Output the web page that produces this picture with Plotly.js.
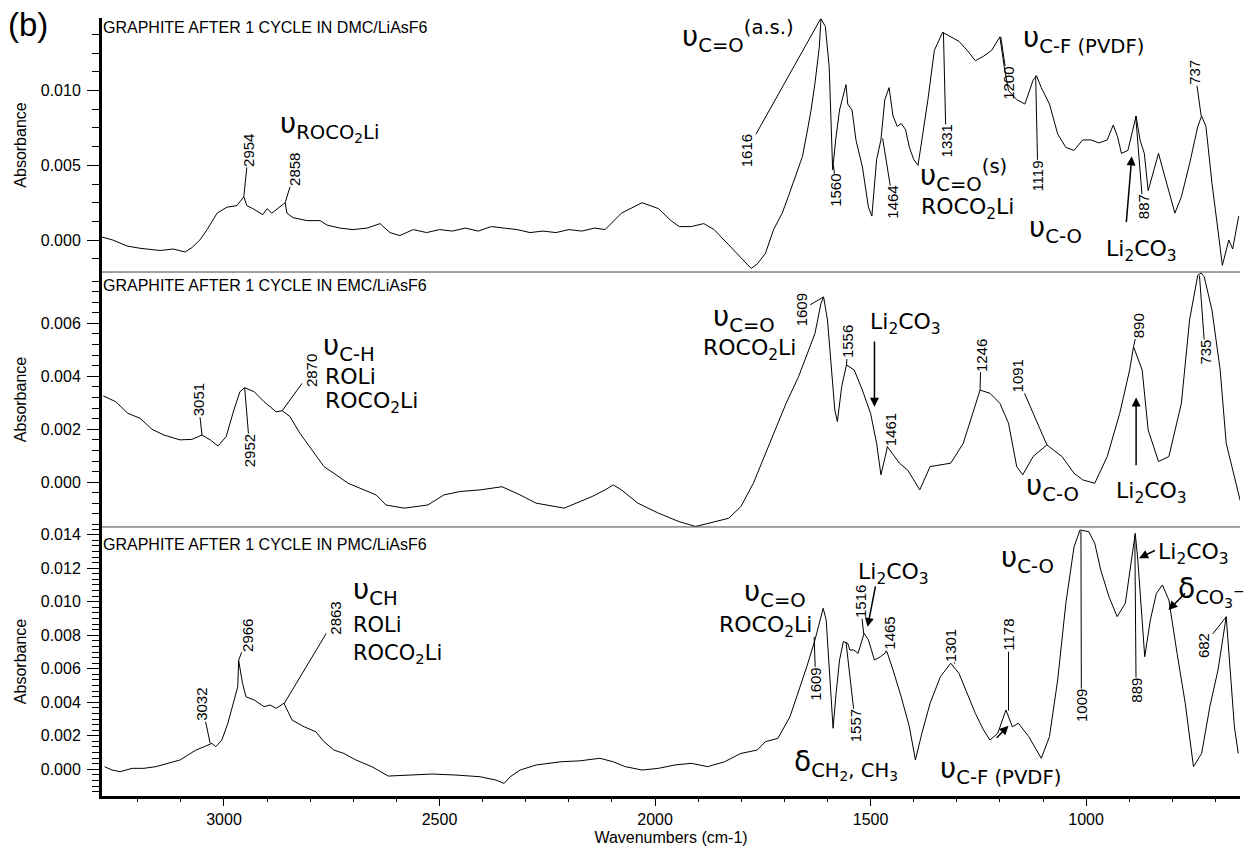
<!DOCTYPE html>
<html><head><meta charset="utf-8">
<script src="https://cdn.plot.ly/plotly-3.0.1.min.js"></script>
<style>body{margin:0;background:#fff}</style>
</head><body>
<div id="chart" style="width:1245px;height:852px"></div>
<script>
// ---------- DATA ----------
const dmcWavenumber = [3283,3258,3225,3195,3148,3118,3090,3074,3056,3039,3016,2993,2970,2954,2947,2933,2910,2900,2889,2875,2858,2854,2840,2807,2777,2761,2731,2701,2668,2638,2615,2592,2561,2530,2500,2470,2440,2410,2380,2350,2320,2290,2260,2230,2200,2170,2140,2116,2078,2030,1992,1963,1944,1916,1887,1863,1839,1810,1787,1777,1763,1744,1725,1705,1691,1677,1658,1648,1638,1629,1619,1615,1605,1596,1591,1588,1581,1572,1557,1553,1543,1534,1519,1505,1497,1486,1476,1467,1457,1448,1438,1429,1419,1410,1400,1390,1381,1367,1352,1333,1314,1295,1276,1257,1238,1219,1200,1190,1180,1161,1142,1123,1115,1104,1085,1066,1047,1028,1008,989,970,951,937,927,918,903,894,884,875,865,856,841,832,817,794,779,760,741,732,722,708,693,684,669,660,646];
const dmcAbsorbance = [0.0002,0.0,-0.0004,-0.00055,-0.0007,-0.0006,-0.0008,-0.0005,0.0,0.0007,0.0018,0.0022,0.0023,0.0029,0.0023,0.0021,0.0017,0.0021,0.0018,0.0021,0.0025,0.0018,0.0015,0.0013,0.0013,0.001,0.0008,0.0007,0.0008,0.0011,0.0005,0.0003,0.0007,0.0005,0.0007,0.0006,0.0008,0.0006,0.0009,0.0008,0.0007,0.0005,0.0006,0.0005,0.0007,0.0006,0.0008,0.0007,0.0018,0.0025,0.0021,0.0013,0.0009,0.0009,0.0011,0.0007,0.0,-0.0009,-0.0016,-0.0019,-0.0016,-0.0009,0.0007,0.0018,0.0029,0.0040,0.0056,0.0071,0.0087,0.0105,0.0129,0.0148,0.0143,0.0116,0.0067,0.0047,0.0067,0.0087,0.0104,0.0091,0.0087,0.0067,0.0049,0.0022,0.0016,0.0054,0.0067,0.0094,0.0102,0.0083,0.0076,0.0078,0.0074,0.0062,0.0054,0.0050,0.0067,0.0094,0.0127,0.0139,0.0136,0.0133,0.0127,0.0120,0.0123,0.0127,0.0136,0.0116,0.0100,0.0094,0.0091,0.0107,0.0110,0.0102,0.0091,0.0071,0.0062,0.0060,0.0067,0.0067,0.0065,0.0067,0.0077,0.0069,0.0058,0.0060,0.0071,0.0083,0.0067,0.0058,0.0033,0.0049,0.0058,0.0042,0.0018,0.0029,0.0051,0.0076,0.0083,0.0076,0.0038,0.0004,-0.0017,0.0,-0.0006,0.0016];

const emcWavenumber = [3280,3251,3223,3195,3167,3139,3102,3074,3051,3032,3014,2995,2977,2963,2952,2930,2907,2879,2865,2847,2824,2796,2768,2740,2712,2675,2647,2624,2582,2527,2490,2452,2406,2355,2313,2276,2211,2146,2116,2097,2078,2040,1992,1944,1906,1868,1829,1801,1772,1734,1696,1667,1643,1629,1615,1609,1600,1591,1583,1577,1567,1556,1538,1519,1500,1486,1476,1466,1461,1433,1414,1400,1386,1362,1343,1314,1285,1257,1246,1223,1200,1180,1161,1147,1123,1091,1056,1028,1008,980,951,922,899,890,870,856,832,808,779,760,741,733,726,708,689,675,655,641];
const emcAbsorbance = [0.00326,0.00304,0.0026,0.00242,0.0020,0.00178,0.0016,0.00162,0.00178,0.0016,0.00137,0.00172,0.00273,0.00342,0.00357,0.00342,0.00304,0.00266,0.0027,0.00248,0.00185,0.00122,0.00059,0.00028,-0.00004,-0.00029,-0.00048,-0.00086,-0.00098,-0.00086,-0.00048,-0.00035,-0.00029,-0.00017,-0.00048,-0.00079,-0.00098,-0.00054,-0.00029,-0.0001,-0.00029,-0.00079,-0.00117,-0.00149,-0.00167,-0.00152,-0.00136,-0.00092,-0.00004,0.00147,0.00298,0.00399,0.00499,0.00562,0.00676,0.0070,0.00613,0.00424,0.00273,0.00229,0.00361,0.00443,0.00424,0.00348,0.0026,0.00147,0.00028,0.00097,0.00134,0.00072,0.00046,0.00009,-0.00029,0.00059,0.00065,0.00072,0.00147,0.00298,0.00348,0.00336,0.00298,0.00223,0.00059,0.00028,0.00097,0.00141,0.00097,0.00034,0.00009,-0.00004,0.00097,0.0026,0.00424,0.00512,0.00424,0.00197,0.00078,0.00097,0.00298,0.00613,0.00782,0.0079,0.00776,0.0065,0.00424,0.00147,0.00009,-0.00079];

const pmcWavenumber = [3277,3260,3241,3213,3186,3158,3130,3102,3084,3065,3046,3028,3019,3005,2991,2977,2968,2966,2957,2949,2930,2907,2893,2879,2861,2842,2814,2787,2768,2745,2722,2694,2657,2619,2573,2517,2462,2406,2369,2350,2336,2313,2276,2220,2174,2128,2097,2069,2030,1992,1954,1916,1878,1839,1801,1763,1744,1715,1687,1668,1648,1629,1610,1603,1596,1587,1580,1572,1563,1553,1548,1539,1529,1515,1505,1491,1477,1462,1448,1429,1410,1396,1381,1362,1338,1314,1295,1276,1257,1238,1223,1205,1186,1171,1157,1133,1104,1085,1066,1047,1028,1014,994,980,966,947,928,909,894,886,880,871,864,851,837,823,808,789,770,751,732,713,694,675,666,656,647];
const pmcAbsorbance = [0.00016,-0.00004,-0.00014,0.00006,0.00006,0.00016,0.00036,0.00056,0.00085,0.00115,0.00135,0.00155,0.00135,0.00175,0.00275,0.00414,0.00493,0.0065,0.00513,0.00433,0.00414,0.00374,0.00384,0.00364,0.00394,0.00294,0.00254,0.00224,0.00165,0.00115,0.00095,0.00056,0.00016,-0.0004,-0.00034,-0.00028,-0.00034,-0.00044,-0.00064,-0.00084,-0.00044,-0.00004,0.00026,0.00045,0.00051,0.00066,0.00045,0.00016,-0.00004,0.00006,0.00026,0.00036,0.00016,0.00045,0.00095,0.00115,0.00165,0.00185,0.00314,0.00454,0.00612,0.00772,0.00961,0.00891,0.00593,0.00245,0.00454,0.00652,0.00762,0.00752,0.00712,0.00712,0.00692,0.00812,0.00772,0.00652,0.00672,0.00702,0.00593,0.00433,0.00254,0.00056,0.00215,0.00394,0.00553,0.00633,0.00573,0.00454,0.00334,0.00235,0.00175,0.00215,0.00354,0.00254,0.00275,0.00195,0.00066,0.00195,0.00533,0.00991,0.01328,0.01428,0.01418,0.01349,0.01189,0.0103,0.00911,0.00991,0.01249,0.01408,0.01249,0.00891,0.00672,0.00891,0.0105,0.011,0.0101,0.00692,0.00394,0.00016,0.00095,0.00374,0.00593,0.00911,0.00593,0.00254,0.00095];

const panelTitles = ["GRAPHITE AFTER 1 CYCLE IN DMC/LiAsF6","GRAPHITE AFTER 1 CYCLE IN EMC/LiAsF6","GRAPHITE AFTER 1 CYCLE IN PMC/LiAsF6"];

// peak labels: [text, head wavenumber, head absorbance, label wavenumber, label absorbance]
const dmcPeaks = [["2954",2954,0.0029,2943,0.0060],["2858",2858,0.0025,2835,0.0047],["1616",1616,0.0148,1787,0.0060],["1560",1586,0.0050,1580,0.0033],["1464",1472,0.0068,1448,0.0025],["1331",1331,0.0139,1325,0.0066],["1200",1198,0.0136,1182,0.0105],["1119",1117,0.0110,1112,0.0043],["887",885,0.0083,868,0.0022],["737",733,0.0083,747,0.0112]];
const emcPeaks = [["3051",3051,0.00178,3060,0.0031],["2952",2952,0.00357,2940,0.0012],["2870",2865,0.0027,2798,0.0042],["1609",1609,0.0070,1661,0.0065],["1556",1556,0.00443,1552,0.0053],["1461",1461,0.00134,1455,0.0020],["1246",1246,0.00348,1244,0.0048],["1091",1091,0.00141,1160,0.0040],["890",890,0.00512,879,0.0059],["735",737,0.0078,724,0.0049]];
const pmcPeaks = [["3032",3032,0.00155,3051,0.00385],["2966",2966,0.0065,2945,0.0080],["2863",2861,0.0039,2742,0.0090],["1609",1631,0.0079,1627,0.0051],["1557",1557,0.0076,1535,0.0026],["1516",1516,0.0081,1524,0.0100],["1465",1465,0.0070,1457,0.0081],["1301",1305,0.0063,1316,0.0074],["1178",1180,0.0035,1180,0.0080],["1009",1012,0.0142,1011,0.0038],["889",887,0.0140,884,0.0047],["682",675,0.0091,727,0.0074]];

// assignment texts: [text, wavenumber, absorbance, anchor, size]
const dmcNotes = [["υ<sub>ROCO<sub>2</sub>Li</sub>",2756,0.0076,"center",28],["υ<sub>C=O</sub><sup>(a.s.)</sup>",1807,0.0136,"center",28],["υ<sub>C=O</sub><sup>(s)</sup>",1285,0.0043,"center",28],["ROCO<sub>2</sub>Li",1276,0.0021,"center",22],["υ<sub>C-F (PVDF)</sub>",1007,0.01345,"center",28],["υ<sub>C-O</sub>",1072,0.0007,"center",28],["Li<sub>2</sub>CO<sub>3</sub>",872,-0.0007,"center",22]];
const emcNotes = [["υ<sub>C-H</sub>",2773,0.0051,"left",28],["ROLi",2768,0.0040,"left",22],["ROCO<sub>2</sub>Li",2768,0.0030,"left",22],["υ<sub>C=O</sub>",1793,0.0062,"center",28],["ROCO<sub>2</sub>Li",1782,0.0050,"center",22],["Li<sub>2</sub>CO<sub>3</sub>",1420,0.0060,"center",22],["υ<sub>C-O</sub>",1077,-0.0002,"center",28],["Li<sub>2</sub>CO<sub>3</sub>",849,-0.0004,"center",22]];
const pmcNotes = [["υ<sub>CH</sub>",2703,0.0106,"left",28],["ROLi",2703,0.0086,"left",21],["ROCO<sub>2</sub>Li",2703,0.0069,"left",21],["υ<sub>C=O</sub>",1722,0.0105,"center",28],["ROCO<sub>2</sub>Li",1743,0.0085,"center",22],["Li<sub>2</sub>CO<sub>3</sub>",1446,0.0117,"center",22],["δ<sub>CH<sub>2</sub>, CH<sub>3</sub></sub>",1557,0.0003,"center",28],["υ<sub>C-F (PVDF)</sub>",1198,-0.00004,"center",28],["υ<sub>C-O</sub>",1137,0.0125,"center",28],["Li<sub>2</sub>CO<sub>3</sub>",752,0.0129,"center",22],["δ<sub>CO<sub>3</sub><sup>−</sup></sub>",710,0.0106,"center",28]];

// arrows: [tail wavenumber, tail absorbance, head wavenumber, head absorbance]
const dmcArrows = [[907,0.0011,894,0.0056]];
const emcArrows = [[1491,0.00537,1491,0.00285],[884,0.00058,884,0.0032]];
const pmcArrows = [[1488,0.0110,1507,0.0085],[1211,0.0018,1180,0.0026],[837,0.0131,877,0.0126],[767,0.0106,809,0.0095]];

// ---------- FIGURE ----------
const yNames = ["y","y2","y3"];
const series = [[dmcWavenumber,dmcAbsorbance],[emcWavenumber,emcAbsorbance],[pmcWavenumber,pmcAbsorbance]];
const traces = series.map((s,i)=>({x:s[0],y:s[1],xaxis:"x",yaxis:yNames[i],type:"scatter",mode:"lines",
  line:{color:"#000",width:1},hoverinfo:"skip",showlegend:false}));

const annotations = [];
const numFont = {family:"Liberation Sans, Arial, sans-serif",size:15,color:"#000"};
const chemFont = (s)=>({family:"DejaVu Sans, sans-serif",size:s,color:"#000"});
[[dmcPeaks,dmcNotes,dmcArrows],[emcPeaks,emcNotes,emcArrows],[pmcPeaks,pmcNotes,pmcArrows]].forEach((grp,i)=>{
  const yr = yNames[i];
  grp[0].forEach(p=>annotations.push({text:p[0],x:p[1],y:p[2],ax:p[3],ay:p[4],xref:"x",yref:yr,axref:"x",ayref:yr,
    showarrow:true,arrowhead:0,arrowwidth:1,arrowcolor:"#000",standoff:0,textangle:-90,font:numFont,borderpad:0}));
  grp[1].forEach(n=>annotations.push({text:n[0],x:n[1],y:n[2],xref:"x",yref:yr,showarrow:false,xanchor:n[3],yanchor:"middle",font:chemFont(n[4]),borderpad:0}));
  grp[2].forEach(a=>annotations.push({text:"",x:a[2],y:a[3],ax:a[0],ay:a[1],xref:"x",yref:yr,axref:"x",ayref:yr,
    showarrow:true,arrowhead:2,arrowsize:1.2,arrowwidth:1.5,arrowcolor:"#000",standoff:0}));
});
const titleY = [1.0,0.6684,0.3355];
panelTitles.forEach((t,i)=>annotations.push({text:t,xref:"paper",yref:"paper",x:0,y:titleY[i],xanchor:"left",yanchor:"top",
  showarrow:false,font:{family:"Liberation Sans, Arial, sans-serif",size:16,color:"#000"},borderpad:0}));
annotations.push({text:"(b)",xref:"paper",yref:"paper",x:-0.084,y:1.018,xanchor:"left",yanchor:"top",showarrow:false,
  font:{family:"Liberation Sans, Arial, sans-serif",size:33,color:"#000"}});

const axFont = {family:"Liberation Sans, Arial, sans-serif",size:16,color:"#000"};
function yAxis(domain,range,dtick,minorDtick){
  return {domain:domain,range:range,dtick:dtick,tick0:0,tickformat:".3f",showgrid:false,zeroline:false,
    showline:true,linewidth:3,linecolor:"#000",ticks:"outside",ticklen:12,tickwidth:1,tickcolor:"#000",
    tickfont:axFont,ticklabelstandoff:3,
    minor:{dtick:minorDtick,tick0:0,ticks:"outside",ticklen:7,tickwidth:1,tickcolor:"#000"},
    title:{text:"Absorbance",font:axFont,standoff:11},anchor:"x",fixedrange:true};
}
const layout = {
  width:1245,height:852,margin:{l:102,r:5,t:18,b:56},
  paper_bgcolor:"#fff",plot_bgcolor:"#fff",showlegend:false,
  xaxis:{range:[3283,643],anchor:"y3",dtick:500,tick0:0,tickformat:"d",showgrid:false,zeroline:false,
    showline:true,linewidth:3,linecolor:"#000",ticks:"outside",ticklen:7,tickwidth:1,tickcolor:"#000",tickfont:axFont,
    minor:{dtick:100,tick0:0,ticks:"outside",ticklen:3,tickwidth:1,tickcolor:"#000"},
    title:{text:"Wavenumbers (cm-1)",font:axFont,standoff:5},fixedrange:true},
  yaxis:yAxis([0.6735,1],[-0.00214,0.01486],0.005,0.00125),
  yaxis2:yAxis([0.3458,0.6735],[-0.00169,0.00794],0.002,0.0004),
  yaxis3:yAxis([0,0.3458],[-0.00159,0.01446],0.002,0.002/6),
  shapes:[0.6735,0.3458].map(v=>({type:"line",xref:"paper",yref:"paper",x0:0,x1:1,y0:v,y1:v,line:{color:"#444",width:1}})),
  annotations:annotations
};
Plotly.newPlot("chart",traces,layout,{displayModeBar:false,staticPlot:true});
</script>
</body></html>
